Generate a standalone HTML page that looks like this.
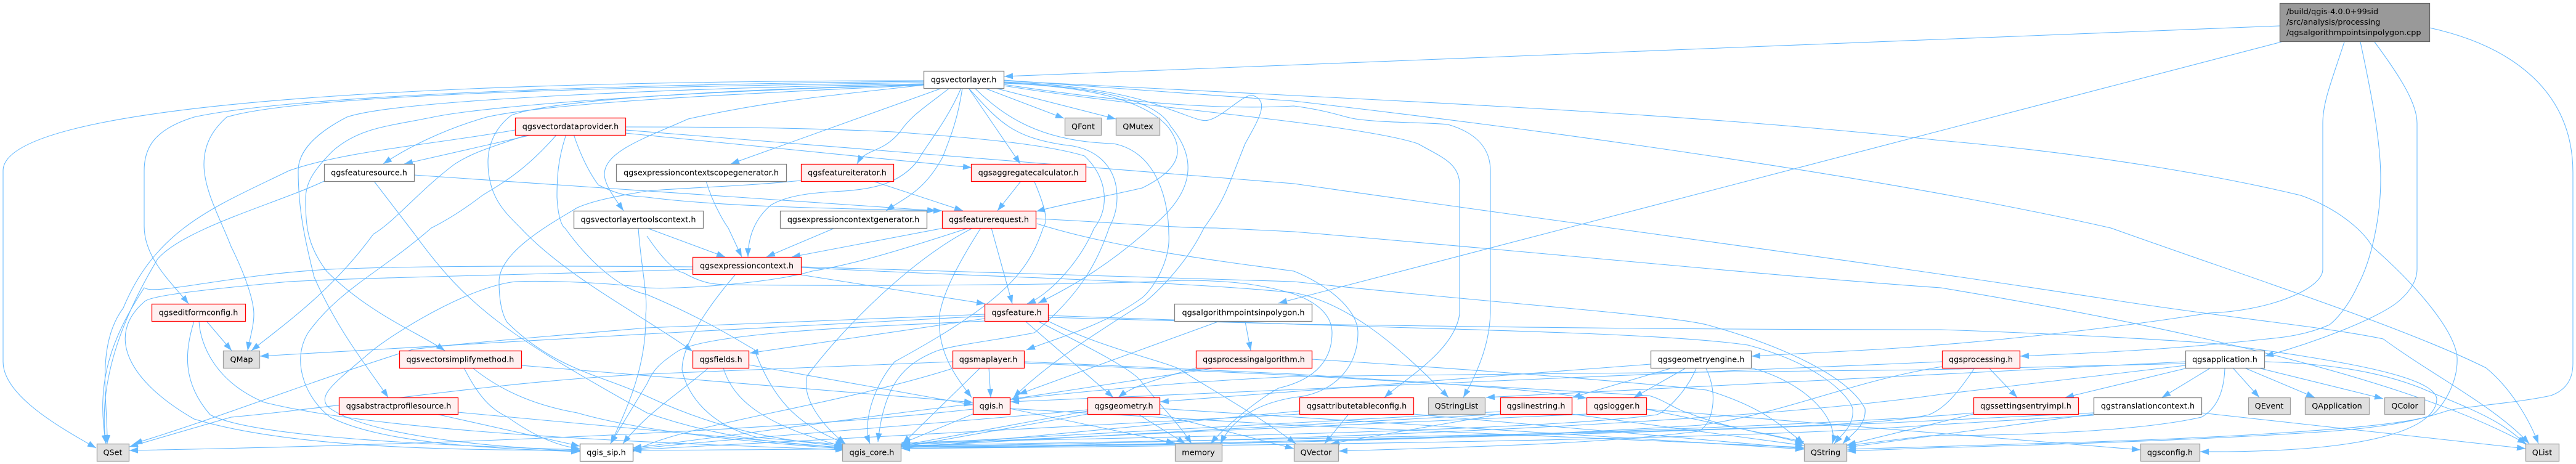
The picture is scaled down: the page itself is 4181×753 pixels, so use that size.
<!DOCTYPE html>
<html><head><meta charset="utf-8"><title>qgsalgorithmpointsinpolygon.cpp include graph</title>
<style>
html,body{margin:0;padding:0;background:#fff}
svg{display:block}
.e path{fill:none;stroke:#63b8ff;stroke-width:1.05;marker-end:url(#a)}
text{font-family:"DejaVu Sans",sans-serif;font-size:12.8px;fill:#000;text-anchor:middle}
.w{fill:#fff;stroke:#808080;stroke-width:1.3}
.r{fill:#fff0f0;stroke:#f00;stroke-width:1.3}
.g{fill:#e0e0e0;stroke:#a0a0a0;stroke-width:1.3}
</style></head><body>
<svg xmlns="http://www.w3.org/2000/svg" width="4181" height="753" viewBox="0 0 4181 753">
<defs><marker id="a" markerUnits="userSpaceOnUse" markerWidth="15" markerHeight="11" refX="14" refY="5" orient="auto"><path d="M0,0L14,5L0,10Z" fill="#63b8ff"/></marker></defs>
<rect width="4181" height="753" fill="#fff"/>
<g class="e">
<!-- root -->
<path d="M3700,42L1630,124"/>
<path d="M3703,68L2075,492"/>
<path d="M3805,68C3785,130 3770,165 3770,200L3770,437C3770,470 3680,505 3586,508C3480,525 3300,548 3131,561C3050,568 2950,572 2843,578"/>
<path d="M3831,68C3855,180 3864,240 3864,290C3864,350 3850,420 3827,463C3810,500 3790,520 3781,527C3740,545 3700,548 3680,550C3500,570 3380,573 3279,578"/>
<path d="M3854,68C3900,130 3923,170 3923,200L3923,437C3923,460 3905,480 3888,493C3850,520 3760,555 3676,578"/>
<path d="M3943,45C4080,75 4176,150 4176,280L4176,590C4176,620 4160,635 4140,642C4080,655 3990,660 3968,668C3930,680 3880,695 3734,703C3500,718 3200,725 3131,727L2998,732"/>
<!-- vectorlayer left -->
<path d="M1499,131C1000,131 5,145 5,277L5,587C5,640 90,690 156,727"/>
<path d="M1499,132C1100,136 500,150 315,190C250,210 234,240 234,277L234,367C234,420 280,460 306,493"/>
<path d="M1499,134C1100,140 500,150 368,190C340,215 331,240 331,267C331,310 360,360 375,400C400,450 412,490 412,510C412,530 405,550 402,569"/>
<path d="M1499,136C1150,142 650,160 563,190C505,220 484,250 484,277C484,340 495,390 510,450C550,540 600,600 630,645"/>
<path d="M1499,138C1150,146 800,170 703,190C630,205 583,207 540,245C505,280 496,300 496,323C496,370 500,400 530,440C600,510 680,540 722,569"/>
<path d="M1499,138C1250,150 900,165 790,190C720,210 660,240 622,266"/>
<path d="M1499,137C1200,145 900,160 830,187C800,210 792,240 792,263C792,320 820,345 845,370C920,450 1040,510 1124,570"/>
<path d="M1499,138C1350,155 1251,163 1117,193C1050,223 981,245 981,283C981,300 1000,325 1012,342"/>
<path d="M1529,143L1186,266"/>
<path d="M1541,143C1500,175 1479,187 1460,215C1430,250 1405,240 1391,266"/>
<path d="M1562,143C1555,190 1545,217 1530,255C1500,310 1470,320 1438,342"/>
<path d="M1572,143L1656,266"/>
<path d="M1598,143L1727,192"/>
<path d="M1615,143L1811,193"/>
<path d="M1560,143C1535,200 1505,233 1490,260C1460,300 1412,307 1370,310C1330,312 1280,315 1251,333C1225,355 1214,385 1214,417"/>
<path d="M1582,143C1630,190 1690,230 1807,233C1880,247 1897,330 1897,380C1900,420 1875,465 1854,483C1790,530 1710,550 1666,568"/>
<path d="M1629,134C1750,140 1874,155 1900,205C1950,265 1930,320 1867,370C1800,430 1740,465 1685,492"/>
<path d="M1629,135C1760,140 1854,160 1895,205C1930,250 1905,280 1854,305C1790,320 1730,330 1682,343"/>
<path d="M1572,143C1620,195 1640,222 1726,235C1790,240 1813,280 1813,320C1813,345 1805,360 1800,370C1780,430 1750,480 1679,540C1630,550 1545,560 1519,570C1470,590 1435,620 1425,717"/>
<path d="M1629,133C1740,137 1830,150 1900,178C1935,190 1950,198 1961,195C1985,190 2020,150 2034,155C2060,165 2045,190 2021,233C1990,310 1990,320 1954,370C1920,440 1860,490 1854,493C1780,540 1700,590 1645,645"/>
<path d="M1629,131L2100,155C2500,175 2850,195 3150,228C3400,250 3600,285 3734,317C3800,340 3840,380 3850,400C3930,470 3985,540 3988,580C3990,620 3965,660 3948,673C3900,695 3600,710 3400,717C3200,724 3100,727 2998,729"/>
<path d="M1629,130L2100,164C2500,210 3050,285 3426,370C3650,450 3900,530 4035,597C4075,630 4105,680 4120,720"/>
<path d="M1629,137C1780,160 1960,180 2100,172C2160,180 2180,190 2200,193C2250,200 2310,198 2350,202C2395,215 2419,240 2419,277L2419,503C2419,560 2395,610 2375,645"/>
<path d="M1629,139C1850,175 2200,200 2301,233C2340,255 2369,265 2369,300L2369,510C2360,570 2280,615 2247,645"/>
<!-- vdp -->
<path d="M836,211C700,235 560,245 469,277C350,335 254,370 200,500C155,560 175,650 174,720"/>
<path d="M867,218L656,266"/>
<path d="M858,218C810,235 770,245 737,267C680,310 640,360 606,380C540,470 470,520 408,569"/>
<path d="M904,218C850,280 810,300 783,317C740,350 710,365 700,370C620,440 550,470 500,540C470,590 500,650 536,677C620,720 800,728 941,733"/>
<path d="M919,218C905,260 904,290 904,320C906,360 915,370 917,370C960,430 1010,470 1050,478C1150,520 1210,560 1224,567C1260,660 1300,690 1372,720"/>
<path d="M931,218C945,260 960,285 971,300C1010,320 1030,318 1050,320C1150,333 1300,338 1529,342"/>
<path d="M1015,206C1200,206 1320,208 1450,214C1600,225 1700,235 1760,253C1800,290 1800,340 1776,370C1750,430 1700,480 1667,493"/>
<path d="M1015,211L2100,298C2600,370 3000,420 3450,490C3650,520 3770,530 3868,550C3950,610 4050,660 4105,720"/>
<path d="M1015,216L1577,272"/>
<!-- feature source -->
<path d="M526,294C450,330 300,370 256,420C220,480 155,600 172,720"/>
<path d="M607,294L673,380C760,500 823,543 1050,670C1150,705 1250,720 1368,726"/>
<path d="M672,284L1519,342"/>
<!-- scopegen/tools/ctxgen -->
<path d="M1146,294C1160,340 1182,370 1182,370L1204,417"/>
<path d="M1050,370L1177,417"/>
<path d="M1355,370L1244,417"/>
<path d="M1036,370C1040,430 1052,480 1048,510C1050,590 1020,660 991,720"/>
<path d="M1050,383C1075,420 1095,440 1110,443C1140,460 1160,462 1184,462C1400,465 1780,462 1920,455C2000,455 2050,462 2100,477C2150,495 2162,520 2162,540C2162,580 2140,615 2075,630C2040,650 1990,690 1965,720"/>
<!-- fiter / aggr -->
<path d="M1417,294L1563,342"/>
<path d="M1300,293C1200,303 1100,305 1050,310C990,320 960,327 937,337C890,365 810,410 810,457C810,490 815,510 823,523C900,600 980,610 1050,643C1150,690 1250,715 1370,724"/>
<path d="M1657,294L1619,342"/>
<path d="M1679,295C1700,345 1700,360 1693,370C1670,440 1630,490 1452,587C1415,630 1400,690 1412,720"/>
<!-- freq -->
<path d="M1532,370L1285,417"/>
<path d="M1609,370L1643,493"/>
<path d="M1592,370C1560,420 1532,470 1525,510C1520,570 1550,610 1577,645"/>
<path d="M1579,370C1480,420 1370,530 1310,610C1300,650 1340,695 1372,720"/>
<path d="M1572,370C1450,410 1380,430 1318,440C1250,460 1100,470 1050,467C980,458 880,455 837,457C760,465 640,540 603,570C545,620 515,640 532,660C590,705 780,725 941,732"/>
<path d="M1681,355C1800,360 1900,370 1974,370L2100,376C2450,405 2900,450 3150,467C3500,525 3900,610 4100,720"/>
<path d="M1683,363C1800,400 1950,420 2100,440C2150,460 2204,500 2204,540C2204,600 2160,640 2100,645C2040,655 2000,680 1981,720"/>
<!-- ctx -->
<path d="M1124,433C1000,432 700,430 536,437C380,445 250,480 234,467C180,550 155,620 172,720"/>
<path d="M1124,437C900,445 600,450 469,457C330,470 240,480 234,490C170,545 210,620 315,680C480,730 760,730 941,731"/>
<path d="M1194,445C1130,520 1107,570 1107,600C1115,640 1150,690 1230,710L1370,722"/>
<path d="M1300,433L2100,457C2400,490 2700,510 2770,527C2890,560 3000,610 3027,663C3030,690 3005,705 2991,720"/>
<path d="M1300,434C1600,450 1900,455 2100,475C2180,490 2260,550 2351,645"/>
<path d="M1300,446L1599,493"/>
<!-- edit -->
<path d="M335,521L376,569"/>
<path d="M315,521C300,570 295,620 341,673C420,715 800,725 941,730"/>
<path d="M323,521C325,560 350,620 429,653C640,705 1100,720 1370,730"/>
<!-- simp/abs/qmap-neighbours -->
<path d="M753,597C780,650 800,665 824,677C870,710 910,725 941,728"/>
<path d="M767,597C820,640 880,660 937,670C1050,703 1250,720 1370,728"/>
<path d="M846,593L1579,653"/>
<path d="M708,672L941,724"/>
<path d="M743,669L1370,727"/>
<!-- feature -->
<path d="M1598,510L1050,532C900,545 770,555 670,567C500,620 350,680 217,720"/>
<path d="M1598,513L1050,542L422,578"/>
<path d="M1598,517L1217,573"/>
<path d="M1598,521C1400,530 1150,540 1100,570C1070,590 1060,600 1050,623L991,720"/>
<path d="M1665,522L1807,645"/>
<path d="M1686,522C1760,560 1840,600 1853,620C1885,660 1915,690 1934,720"/>
<path d="M1703,522C1800,570 1910,590 1920,603C1980,640 2050,680 2103,720"/>
<path d="M1701,512L2100,526C2400,530 2700,535 3150,535C3300,540 3500,550 3600,558C3800,585 3950,610 3955,647C3955,690 3870,735 3571,733"/>
<path d="M1701,515L2100,526C2350,535 2700,540 2837,560C2950,590 3000,640 3007,663C3010,690 2990,705 2977,720"/>
<!-- algo & processing alg -->
<path d="M1977,522L1653,640"/>
<path d="M2021,522L2030,569"/>
<path d="M1967,598L1640,648"/>
<path d="M2129,583C2400,600 2650,620 2770,633C2860,660 2890,690 2928,720"/>
<path d="M1941,597C1880,615 1840,625 1815,645"/>
<!-- maplayer -->
<path d="M1605,597L1608,645"/>
<path d="M1591,597L1465,720"/>
<path d="M1546,598C1350,660 1100,690 1027,733"/>
<path d="M1546,587L1050,607C800,620 560,660 375,677L210,725"/>
<path d="M1663,587L2100,607C2300,620 2480,630 2575,646"/>
<path d="M1663,589L2100,609C2350,625 2580,635 2676,642C2700,648 2720,665 2740,670C2800,695 2880,705 2928,720"/>
<!-- fields -->
<path d="M1215,592L1579,657"/>
<path d="M1174,597C1190,650 1240,690 1370,725"/>
<path d="M1150,597C1100,640 1050,670 1011,720"/>
<!-- qgis.h -->
<path d="M1579,672L1463,720"/>
<path d="M1579,664C1300,695 800,720 210,731"/>
<path d="M1639,663L1907,719"/>
<path d="M1639,663L2100,690L2928,726"/>
<!-- geometry -->
<path d="M1765,667L1463,723"/>
<path d="M1765,672L1463,726"/>
<path d="M1847,672L1924,720"/>
<path d="M1882,663L2928,729"/>
<path d="M1882,672L2100,728"/>
<path d="M1765,665C1500,690 1200,710 1027,729"/>
<!-- attr -->
<path d="M2189,672L2150,720"/>
<path d="M2294,672L2928,728"/>
<path d="M2109,667L1463,728"/>
<path d="M2109,672L1027,730"/>
<!-- linestring / logger -->
<path d="M2435,672L1463,725"/>
<path d="M2551,672L2928,723"/>
<path d="M2435,668L1463,721"/>
<path d="M2435,672L2160,720"/>
<path d="M2575,672L1463,722"/>
<path d="M2672,664L2928,717"/>
<path d="M2672,664L3474,730"/>
<!-- geometry engine -->
<path d="M2711,598L2552,645"/>
<path d="M2735,598L2652,645"/>
<path d="M2753,598C2735,640 2700,670 2689,673C2500,700 1800,712 1463,718"/>
<path d="M2769,598C2790,640 2780,690 2756,700C2600,720 2400,725 2173,732"/>
<path d="M2842,597C2930,620 2985,680 2974,720"/>
<path d="M2679,591L1883,652"/>
<!-- processing -->
<path d="M3152,587L1640,652"/>
<path d="M3205,597C3170,650 3150,665 3131,673C3060,690 2880,700 1463,723"/>
<path d="M3229,598L3274,645"/>
<path d="M3152,595C3000,620 2900,670 2760,690C2300,720 1700,725 1463,726"/>
<path d="M3203,672L2998,722"/>
<!-- application -->
<path d="M3551,597L3352,645"/>
<path d="M3588,597L3509,645"/>
<path d="M3624,597L3667,645"/>
<path d="M3643,597L3757,645"/>
<path d="M3665,597L3868,647"/>
<path d="M3675,587C3800,595 3900,620 3980,680C4030,670 4070,680 4100,720" style="display:none"/>
<path d="M3675,587C3850,605 3920,630 3990,685C4040,690 4070,690 4098,720" style="display:none"/>
<path d="M3675,587C3800,590 3880,610 3930,630C4000,660 4060,680 4100,722"/>
<path d="M3611,597C3610,640 3595,665 3573,677C3450,705 3200,707 3131,707L2998,723"/>
<path d="M3547,587L2412,645"/>
<path d="M3547,593L3150,640C2800,690 2000,720 1463,724"/>
<path d="M3547,590L3131,600L2100,611C1700,630 1400,680 1027,727" style="stroke-width:1"/>
<!-- translation -->
<path d="M3573,670L4099,728"/>
<path d="M3398,672L2998,726"/>
<path d="M3398,670L3131,683C2800,700 2000,722 1463,725"/>
<path d="M3398,674L3131,690C2800,715 2000,725 1027,731"/>
<!-- settings -->
<path d="M3203,670C3000,690 2200,718 1463,728"/>
</g>
<g>
<rect x="3700.5" y="5.5" width="243" height="62" fill="#999" stroke="#666" stroke-width="1.3"/>
<text x="3711" y="23" style="text-anchor:start">/build/qgis-4.0.0+99sid</text>
<text x="3711" y="40" style="text-anchor:start">/src/analysis/processing</text>
<text x="3711" y="57" style="text-anchor:start">/qgsalgorithmpointsinpolygon.cpp</text>

<rect class="w" x="1499.5" y="115.5" width="130" height="28"/><text x="1564" y="133.5">qgsvectorlayer.h</text>
<rect class="r" x="836.5" y="191.5" width="179" height="28"/><text x="926" y="209.5">qgsvectordataprovider.h</text>
<rect class="g" x="1728.5" y="191.5" width="59" height="28"/><text x="1758" y="209.5">QFont</text>
<rect class="g" x="1811.5" y="191.5" width="71" height="28"/><text x="1847" y="209.5">QMutex</text>
<rect class="w" x="526.5" y="266.5" width="146" height="28"/><text x="599" y="284.5">qgsfeaturesource.h</text>
<rect class="w" x="1000.5" y="266.5" width="276" height="28"/><text x="1138" y="284.5">qgsexpressioncontextscopegenerator.h</text>
<rect class="r" x="1300.5" y="266.5" width="150" height="28"/><text x="1375" y="284.5">qgsfeatureiterator.h</text>
<rect class="r" x="1576.5" y="266.5" width="186" height="28"/><text x="1669" y="284.5">qgsaggregatecalculator.h</text>
<rect class="w" x="931.5" y="342.5" width="210" height="28"/><text x="1036" y="360.5">qgsvectorlayertoolscontext.h</text>
<rect class="w" x="1266.5" y="342.5" width="238" height="28"/><text x="1385" y="360.5">qgsexpressioncontextgenerator.h</text>
<rect class="r" x="1529.5" y="342.5" width="152" height="28"/><text x="1605" y="360.5">qgsfeaturerequest.h</text>
<rect class="r" x="1124.5" y="417.5" width="176" height="28"/><text x="1212" y="435.5">qgsexpressioncontext.h</text>
<rect class="r" x="246.5" y="493.5" width="152" height="28"/><text x="322" y="511.5">qgseditformconfig.h</text>
<rect class="r" x="1598.5" y="493.5" width="103" height="28"/><text x="1650" y="511.5">qgsfeature.h</text>
<rect class="w" x="1906.5" y="493.5" width="223" height="28"/><text x="2018" y="511.5">qgsalgorithmpointsinpolygon.h</text>
<rect class="g" x="362.5" y="569.5" width="59" height="28"/><text x="392" y="587.5">QMap</text>
<rect class="r" x="648.5" y="569.5" width="198" height="28"/><text x="747" y="587.5">qgsvectorsimplifymethod.h</text>
<rect class="r" x="1124.5" y="569.5" width="91" height="28"/><text x="1170" y="587.5">qgsfields.h</text>
<rect class="r" x="1546.5" y="569.5" width="116" height="28"/><text x="1604" y="587.5">qgsmaplayer.h</text>
<rect class="r" x="1941.5" y="569.5" width="188" height="28"/><text x="2035" y="587.5">qgsprocessingalgorithm.h</text>
<rect class="w" x="2679.5" y="569.5" width="163" height="28"/><text x="2761" y="587.5">qgsgeometryengine.h</text>
<rect class="r" x="3152.5" y="569.5" width="126" height="28"/><text x="3215" y="587.5">qgsprocessing.h</text>
<rect class="w" x="3547.5" y="569.5" width="128" height="28"/><text x="3611" y="587.5">qgsapplication.h</text>
<rect class="r" x="550.5" y="645.5" width="193" height="27"/><text x="647" y="663">qgsabstractprofilesource.h</text>
<rect class="r" x="1579.5" y="645.5" width="60" height="27"/><text x="1609" y="663">qgis.h</text>
<rect class="r" x="1765.5" y="645.5" width="117" height="27"/><text x="1824" y="663">qgsgeometry.h</text>
<rect class="r" x="2109.5" y="645.5" width="185" height="27"/><text x="2202" y="663">qgsattributetableconfig.h</text>
<rect class="g" x="2318.5" y="645.5" width="92" height="27"/><text x="2364" y="663">QStringList</text>
<rect class="r" x="2435.5" y="645.5" width="116" height="27"/><text x="2493" y="663">qgslinestring.h</text>
<rect class="r" x="2575.5" y="645.5" width="97" height="27"/><text x="2624" y="663">qgslogger.h</text>
<rect class="r" x="3203.5" y="645.5" width="170" height="27"/><text x="3288" y="663">qgssettingsentryimpl.h</text>
<rect class="w" x="3398.5" y="645.5" width="175" height="27"/><text x="3486" y="663">qgstranslationcontext.h</text>
<rect class="g" x="3649.5" y="645.5" width="68" height="27"/><text x="3683" y="663">QEvent</text>
<rect class="g" x="3741.5" y="645.5" width="104" height="27"/><text x="3793" y="663">QApplication</text>
<rect class="g" x="3870.5" y="645.5" width="65" height="27"/><text x="3903" y="663">QColor</text>
<rect class="g" x="157.5" y="720.5" width="52" height="28"/><text x="183" y="738.5">QSet</text>
<rect class="w" x="941.5" y="720.5" width="86" height="28"/><text x="984" y="738.5">qgis_sip.h</text>
<rect class="g" x="1367.5" y="720.5" width="95" height="28"/><text x="1415" y="738.5">qgis_core.h</text>
<rect class="g" x="1907.5" y="720.5" width="76" height="28"/><text x="1945" y="738.5">memory</text>
<rect class="g" x="2100.5" y="720.5" width="72" height="28"/><text x="2136" y="738.5">QVector</text>
<rect class="g" x="2928.5" y="720.5" width="69" height="28"/><text x="2963" y="738.5">QString</text>
<rect class="g" x="3474.5" y="720.5" width="96" height="28"/><text x="3522" y="738.5">qgsconfig.h</text>
<rect class="g" x="4099.5" y="720.5" width="54" height="28"/><text x="4126" y="738.5">QList</text>
</g>
</svg>
</body></html>
